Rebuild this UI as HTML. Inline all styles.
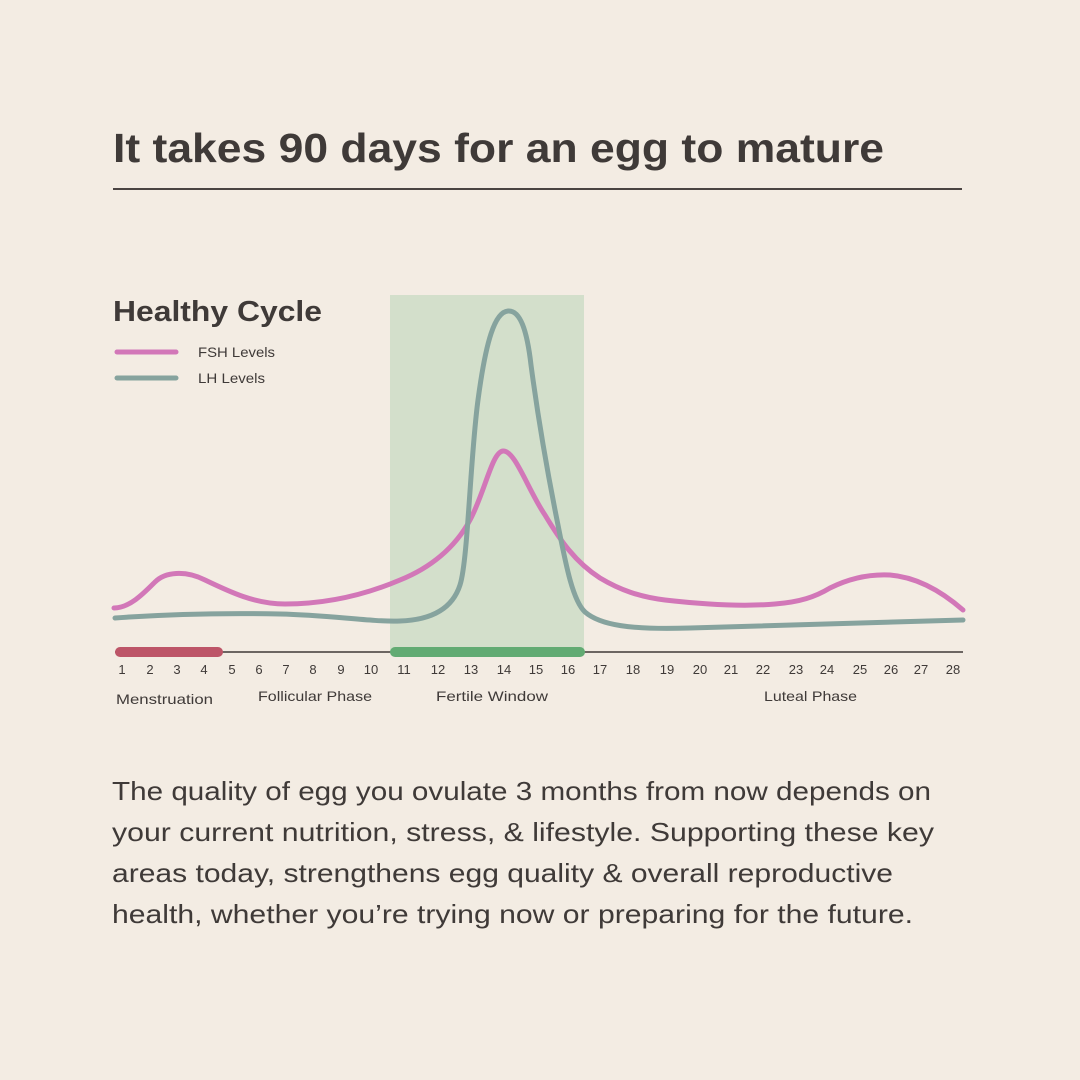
<!DOCTYPE html>
<html><head><meta charset="utf-8"><style>
body{margin:0;width:1080px;height:1080px;background:#f3ece3;overflow:hidden;font-family:"Liberation Sans",sans-serif;color:#3f3a38}
</style></head><body>
<svg width="1080" height="1080" viewBox="0 0 1080 1080" xmlns="http://www.w3.org/2000/svg" style="position:absolute;left:0;top:0" font-family="Liberation Sans, sans-serif">
<rect width="1080" height="1080" fill="#f3ece3"/>
<text x="113" y="162" font-size="41" font-weight="bold" fill="#3f3a38" textLength="771" lengthAdjust="spacingAndGlyphs">It takes 90 days for an egg to mature</text>
<rect x="113" y="188" width="849" height="2" fill="#4a4442"/>
<rect x="390" y="295" width="194" height="357" fill="#d3dfcb"/>
<text x="113" y="321" font-size="29" font-weight="bold" fill="#3f3a38" textLength="209" lengthAdjust="spacingAndGlyphs">Healthy Cycle</text>
<line x1="117" y1="352" x2="176" y2="352" stroke="#d277b8" stroke-width="5" stroke-linecap="round"/>
<line x1="117" y1="378" x2="176" y2="378" stroke="#86a39e" stroke-width="5" stroke-linecap="round"/>
<text x="198" y="357" font-size="14" fill="#3f3a38" textLength="77" lengthAdjust="spacingAndGlyphs">FSH Levels</text>
<text x="198" y="383" font-size="14" fill="#3f3a38" textLength="67" lengthAdjust="spacingAndGlyphs">LH Levels</text>
<path d="M114,608 C130,608 145,592 155,582 C165,572 185,570 205,580 C230,592 255,604 285,604 C320,604 360,597 400,580 C430,568 455,548 470,520 C485,492 492,452 503,451 C515,450 528,490 545,515 C560,540 575,562 600,578 C620,590 640,597 665,600 C700,604 740,607 775,604 C800,602 815,597 830,588 C850,578 870,574 890,575 C915,577 940,590 963,610" fill="none" stroke="#d277b8" stroke-width="5" stroke-linecap="round"/>
<path d="M115,618 C170,614 230,613 280,614 C330,615 370,622 400,621 C430,620 452,610 460,585 C468,560 470,460 478,400 C486,340 495,312 508,311 C520,310 527,330 531,365 C537,410 547,470 557,520 C565,560 572,600 585,612 C600,625 630,630 690,628 C760,626 860,623 963,620" fill="none" stroke="#86a39e" stroke-width="5" stroke-linecap="round"/>
<line x1="115" y1="652" x2="963" y2="652" stroke="#3f3a38" stroke-width="1.5"/>
<line x1="120" y1="652" x2="218" y2="652" stroke="#bd5568" stroke-width="10" stroke-linecap="round"/>
<line x1="395" y1="652" x2="580" y2="652" stroke="#62ab73" stroke-width="10" stroke-linecap="round"/>
<g font-size="13" fill="#3f3a38" text-anchor="middle">
<text x="122" y="674">1</text><text x="150" y="674">2</text><text x="177" y="674">3</text><text x="204" y="674">4</text><text x="232" y="674">5</text><text x="259" y="674">6</text><text x="286" y="674">7</text><text x="313" y="674">8</text><text x="341" y="674">9</text><text x="371" y="674">10</text><text x="404" y="674">11</text><text x="438" y="674">12</text><text x="471" y="674">13</text><text x="504" y="674">14</text><text x="536" y="674">15</text><text x="568" y="674">16</text><text x="600" y="674">17</text><text x="633" y="674">18</text><text x="667" y="674">19</text><text x="700" y="674">20</text><text x="731" y="674">21</text><text x="763" y="674">22</text><text x="796" y="674">23</text><text x="827" y="674">24</text><text x="860" y="674">25</text><text x="891" y="674">26</text><text x="921" y="674">27</text><text x="953" y="674">28</text>
</g>
<g font-size="14" fill="#3f3a38">
<text x="116" y="704" textLength="97" lengthAdjust="spacingAndGlyphs">Menstruation</text>
<text x="258" y="701" textLength="114" lengthAdjust="spacingAndGlyphs">Follicular Phase</text>
<text x="436" y="701" textLength="112" lengthAdjust="spacingAndGlyphs">Fertile Window</text>
<text x="764" y="701" textLength="93" lengthAdjust="spacingAndGlyphs">Luteal Phase</text>
</g>
<g font-size="26" fill="#3f3a38">
<text x="112" y="800" textLength="819" lengthAdjust="spacingAndGlyphs">The quality of egg you ovulate 3 months from now depends on</text>
<text x="112" y="841" textLength="822" lengthAdjust="spacingAndGlyphs">your current nutrition, stress, &amp; lifestyle. Supporting these key</text>
<text x="112" y="882" textLength="781" lengthAdjust="spacingAndGlyphs">areas today, strengthens egg quality &amp; overall reproductive</text>
<text x="112" y="923" textLength="801" lengthAdjust="spacingAndGlyphs">health, whether you’re trying now or preparing for the future.</text>
</g>
</svg>
</body></html>
